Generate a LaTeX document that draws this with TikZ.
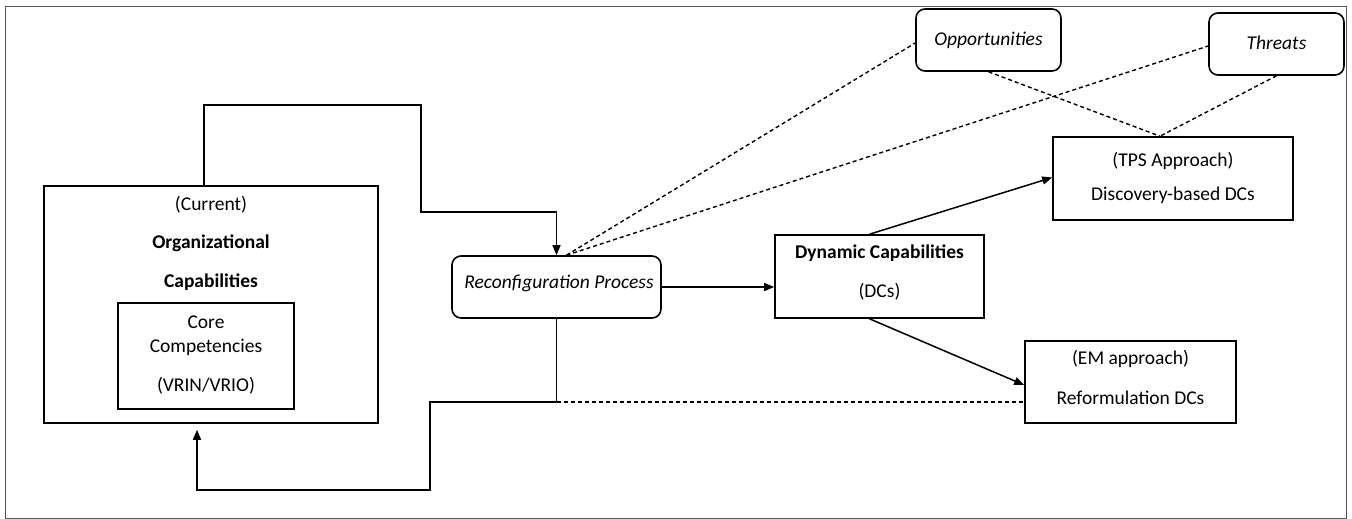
\documentclass[tikz,border=0pt]{standalone}
\usepackage{fontspec}
\setmainfont{Carlito}
\usetikzlibrary{arrows.meta}

\tikzset{
  box/.style={draw, line width=1.6pt, inner sep=0pt, fill=white},
  rbox/.style={box, rounded corners=9pt},
  lbl/.style={inner sep=0pt, font=\fontsize{19.5}{23}\selectfont},
  link/.style={line width=1.5pt},
  arr/.style={link, -{Triangle[length=10pt,width=8pt]}},
  dashline/.style={line width=1.4pt, dash pattern=on 4pt off 3pt},
}

\begin{document}
\begin{tikzpicture}[x=1pt,y=-1pt]
\useasboundingbox (0,0) rectangle (1352,519);
% outer frame
\draw[line width=0.9pt, black!65] (5,6) rectangle (1346,518);

% boxes
\node[box, minimum width=334pt, minimum height=237pt] (org) at (211,304.5) {};
\node[box, minimum width=176pt, minimum height=106pt] (core) at (206,356) {};
\node[rbox, minimum width=209pt, minimum height=62pt] (rp) at (556.5,287) {};
\node[box, minimum width=209pt, minimum height=83pt] (dc) at (879.5,276.5) {};
\node[box, minimum width=240pt, minimum height=83pt] (tps) at (1173,178.5) {};
\node[box, minimum width=211pt, minimum height=82pt] (em) at (1130.5,382) {};
\node[rbox, minimum width=145pt, minimum height=62pt] (opp) at (988.5,40) {};
\node[rbox, minimum width=135pt, minimum height=62pt] (thr) at (1276.5,44) {};

% texts
\node[lbl] (t1) at (211,205) {(Current)};
\node[lbl] (t2) at (211,243) {\bfseries Organizational};
\node[lbl] (t3) at (211,282) {\bfseries Capabilities};
\node[lbl] (t4) at (206,322) {Core};
\node[lbl] (t5) at (206,347) {Competencies};
\node[lbl] (t6) at (206,386) {(VRIN/VRIO)};
\node[lbl] (t7) at (559,283) {\itshape Reconfiguration Process};
\node[lbl] (t8) at (879.5,253) {\bfseries Dynamic Capabilities};
\node[lbl] (t9) at (879.5,292) {(DCs)};
\node[lbl] (t10) at (1173,161) {(TPS Approach)};
\node[lbl] (t11) at (1173,195) {Discovery-based DCs};
\node[lbl] (t12) at (1130.5,359) {(EM approach)};
\node[lbl] (t13) at (1130.5,398) {Reformulation DCs};
\node[lbl] (t14) at (988.5,40) {\itshape Opportunities};
\node[lbl] (t15) at (1276.5,43) {\itshape Threats};

% feedback loop: capabilities into the reconfiguration process
\coordinate (up) at ([xshift=-7pt]org.north);
\draw[arr] (up) |- (421,105) -- (421,212) -| (rp.north);

% feedback loop: reconfiguration back to the capabilities
\coordinate (bk) at (rp.south |- 0,402);
\draw[arr, shorten >=6pt] (rp.south) -- (bk) -- (430,402) -- (430,490) -| ([xshift=-14pt]org.south);

% main flow
\draw[arr] (rp.east) -- (dc.west |- rp.east);
\draw[arr] ([xshift=-10pt]dc.north) -- ([yshift=1pt]tps.west);
\draw[arr] ([xshift=-10pt]dc.south) -- ([yshift=-3pt]em.west);

% environmental links
\coordinate (rt) at ([xshift=10pt]rp.north);
\draw[dashline] (rt) -- ([yshift=-3pt]opp.west);
\draw[dashline] (rt) -- ([yshift=-2pt]thr.west);
\draw[dashline] (opp.south) -- ([xshift=-13pt]tps.north);
\draw[dashline] (thr.south) -- ([xshift=-13pt]tps.north);
\draw[dashline] (bk) -- (em.west |- bk);
\end{tikzpicture}
\end{document}
